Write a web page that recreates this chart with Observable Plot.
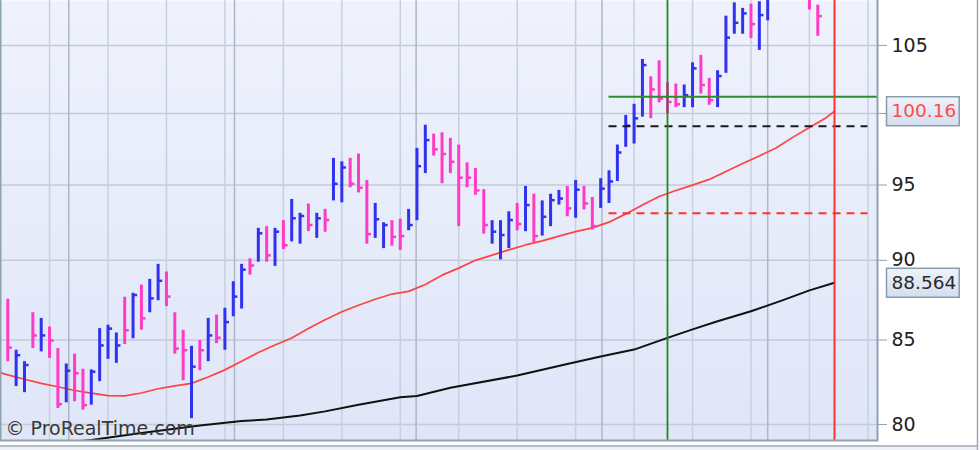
<!DOCTYPE html>
<html><head><meta charset="utf-8">
<script src="https://cdn.jsdelivr.net/npm/d3@7"></script>
<script src="https://cdn.jsdelivr.net/npm/@observablehq/plot@0.6"></script>
<style>
html,body{margin:0;padding:0;background:#fff;}
#chart{width:980px;height:450px;overflow:hidden;}
svg{display:block;}
</style></head><body><div id="chart"></div>
<script>
// ---- data (bar index 0..99, daily HLC bars; "u" = up bar, "d" = down bar) ----
const dir = ["d","u","u","d","u","d","d","u","d","d", "u","u","u","u","d","u","d","u","u","d",
             "d","d","u","d","u","d","u","u","u","d", "u","d","u","d","u","u","d","u","d","u",
             "u","d","d","d","u","u","d","d","u","u", "u","d","d","d","d","d","d","d","u","u",
             "u","d","u","d","u","u","u","d","u","d", "d","u","u","u","u","u","u","d","d","d",
             "d","u","u","d","d","u","u","u","u","d", "u","u","u","d","u","d","d","d","u","u"];
const highs = [87.52,84.38,83.69,86.68,86.33,85.80,84.48,83.55,84.14,83.24,
  83.20,85.70,85.91,85.43,87.65,87.90,88.42,88.78,89.74,89.25,
  86.68,85.60,84.62,84.97,86.33,86.54,86.96,88.63,89.74,90.10,
  92.09,92.20,92.09,92.60,94.02,93.09,93.71,93.09,93.35,96.83,
  96.59,96.83,97.13,95.31,93.75,92.46,92.60,92.69,93.35,97.53,
  99.16,98.53,98.62,98.23,97.76,96.52,96.13,94.68,92.60,92.60,
  93.19,93.75,94.90,94.37,93.92,94.37,94.63,94.90,95.31,94.90,
  94.15,95.43,95.97,97.76,99.86,100.66,103.95,102.67,103.85,102.23,
  102.13,102.06,103.70,104.26,102.55,103.11,107.23,108.26,107.83,108.16,
  108.34,109.20,110.60,111.20,111.00,110.70,109.80,108.08,110.20,110.60];
const lows = [83.69,82.21,81.85,84.48,84.28,83.89,80.93,81.26,81.32,80.83,
  81.12,82.50,83.83,83.59,84.73,85.08,85.60,86.68,87.43,87.06,
  84.14,82.56,80.34,83.15,83.69,84.78,84.38,86.43,86.91,89.05,
  89.88,89.88,89.61,90.70,91.20,91.05,91.87,91.43,91.83,93.92,
  93.79,94.81,94.46,91.05,91.43,90.76,90.92,90.65,91.93,92.60,
  95.78,96.99,95.08,95.78,92.20,94.81,94.30,91.71,91.05,90.03,
  90.76,91.93,91.87,91.14,91.58,92.20,93.64,92.86,92.76,93.31,
  91.98,93.42,93.75,95.24,97.60,97.83,99.74,99.63,100.76,99.98,
  100.42,100.42,100.42,101.40,100.59,100.42,102.92,105.85,105.85,105.52,
  104.63,106.87,108.70,109.00,108.80,108.70,107.70,105.69,108.60,108.80];
const closes = [84.54,84.08,83.49,85.28,85.28,84.97,81.18,83.15,83.00,81.12,
  83.09,84.67,85.70,84.67,85.60,87.79,86.33,87.58,88.69,87.69,
  84.48,84.38,83.39,84.38,85.28,85.14,86.10,87.69,89.40,89.67,
  91.76,90.32,91.87,90.98,92.76,92.91,92.31,92.76,92.64,95.08,
  96.20,95.08,94.81,91.71,92.69,92.31,91.53,91.58,92.31,96.29,
  98.11,97.46,97.13,96.59,95.50,95.50,94.63,92.31,91.87,91.65,
  92.64,92.38,93.64,91.58,92.86,93.97,94.08,93.42,94.68,93.75,
  92.24,94.75,95.24,97.24,99.13,99.65,103.53,101.74,101.08,100.83,
  100.66,101.32,103.29,102.06,100.96,102.72,105.59,106.72,107.44,106.62,
  107.31,108.60,110.10,109.60,110.40,108.90,108.60,107.23,109.80,110.30];

// moving averages (bar index, value)
const ma50Idx = [-1,0,2,4,6,8,10,12,14,16,18,20,22,24,26,28,30,32,34,36,38,40,42,44,46,48,50,52,54,56,58,60,62,64,66,68,70,72,74,76,78,80,82,84,86,88,90,92,94,96,98,99];
const ma50 = [83.05,82.90,82.64,82.40,82.20,81.98,81.82,81.68,81.66,81.83,82.08,82.25,82.40,82.78,83.20,83.72,84.24,84.70,85.12,85.70,86.25,86.74,87.15,87.52,87.85,88.02,88.45,89.05,89.50,90.00,90.34,90.68,91.00,91.27,91.58,91.87,92.12,92.50,93.05,93.65,94.22,94.62,94.99,95.38,95.92,96.47,97.00,97.55,98.30,99.00,99.70,100.16];
const ma200Idx = [6,10,16,23,28,31,35,38,42,47,49,53,61,67,71,75,79,82,85,89,93,96,99];
const ma200 = [78.93,79.12,79.52,79.94,80.20,80.29,80.52,80.76,81.15,81.58,81.66,82.14,82.86,83.55,84.00,84.42,85.13,85.65,86.15,86.77,87.50,88.08,88.564];

// horizontal levels: price, from bar, to bar
const levelKind = ["green", "blackDash", "redDash"];
const levelPrice = [101.20, 99.09, 93.09];
const levelFrom = [72, 72, 72];
const levelTo = [104.15, 103, 103];

// vertical markers (bar index)
const greenMarker = [79];
const redMarker = [99];

// last value labels
const lastValues = [100.16, 88.564];
const lastTexts = ["100.16", "88.564"];
const lastColors = ["#ff4a4a", "#2a2a2a"];

// axis ticks and grid positions
const yTicks = [80, 85, 90, 95, 100, 105];
const yTickLabels = ["80", "85", "90", "95", "100", "105"];
const weekGrid = [5,12,19,26,33,40,47,54,61,68,75,82,89,96,103];
const monthGrid = [7.3, 27.15, 48.9, 71.15, 91];
const watermark = ["© ProRealTime.com"];

// ---- build tables ----
const bars = highs.map((h, i) => ({i, high: h, low: lows[i], close: closes[i], dir: dir[i]}));
const ma50Data = ma50Idx.map((i, k) => ({i, v: ma50[k]}));
const ma200Data = ma200Idx.map((i, k) => ({i, v: ma200[k]}));
const levels = levelKind.map((k, j) => ({k, price: levelPrice[j], from: levelFrom[j], to: levelTo[j]}));
const labels = lastValues.map((v, j) => ({v, t: lastTexts[j], c: lastColors[j]}));
// tick labels that sit under a last-value box are hidden by it, as in the reference
const tickData = yTicks.map((v, j) => ({v, t: yTickLabels[j]}))
  .filter(d => !lastValues.some(v => Math.abs(Math.log(v / d.v)) < 0.006));
const UP = "#3131f0", DOWN = "#ff3bc6";
const col = d => d.dir === "u" ? UP : DOWN;
const FONT = "'DejaVu Sans', sans-serif";

const chart = Plot.plot({
  width: 980, height: 450,
  marginLeft: 0, marginRight: 103, marginTop: 0, marginBottom: 10,
  style: {fontFamily: FONT, fontSize: "19px", background: "transparent", overflow: "visible"},
  x: {type: "linear", domain: [-0.874, 104.15], axis: null},
  y: {type: "log", domain: [79.09, 108.44], axis: null},
  marks: [
    Plot.frame({fill: "#e6ebf9", stroke: "none", className: "plotbg"}),
    Plot.ruleY(yTicks, {stroke: "#c3cadb", strokeWidth: 1.5}),
    Plot.ruleX(weekGrid, {stroke: "#c8cfdf", strokeWidth: 1.5}),
    Plot.ruleX(monthGrid, {stroke: "#aeb6c8", strokeWidth: 1.5}),
    Plot.line(ma200Data, {x: "i", y: "v", stroke: "#111", strokeWidth: 2, clip: true}),
    Plot.line(ma50Data, {x: "i", y: "v", stroke: "#ff4343", strokeWidth: 1.7, clip: true}),
    Plot.ruleX(bars, {x: "i", y1: "low", y2: "high", stroke: col, strokeWidth: 3, clip: true}),
    Plot.ruleY(bars, {y: "close", x1: "i", x2: d => d.i + 0.55, stroke: col, strokeWidth: 2.5, clip: true}),
    Plot.ruleY(levels.filter(d => d.k === "blackDash"), {y: "price", x1: "from", x2: "to", stroke: "#1a1a1a", strokeWidth: 2, strokeDasharray: "8,6"}),
    Plot.ruleY(levels.filter(d => d.k === "redDash"), {y: "price", x1: "from", x2: "to", stroke: "#ff3030", strokeWidth: 2, strokeDasharray: "8,6"}),
    Plot.ruleY(levels.filter(d => d.k === "green"), {y: "price", x1: "from", x2: "to", stroke: "#2b8e2b", strokeWidth: 2}),
    Plot.ruleX(greenMarker, {stroke: "#1f8a1f", strokeWidth: 1.8}),
    Plot.ruleX(redMarker, {stroke: "#ff3232", strokeWidth: 2}),
    Plot.frame({stroke: "#8fa2b0", strokeWidth: 2, insetTop: -4}),
    Plot.axisY({anchor: "right", ticks: yTicks, tickSize: 9, stroke: "#8fa2b0", tickFormat: () => "", label: null}),
    Plot.text(tickData, {y: "v", text: "t", frameAnchor: "right", dx: 14, textAnchor: "start", fill: "#222", fontSize: 19}),
    Plot.text(labels, {y: "v", text: "t", fill: "c", frameAnchor: "right", dx: 14, textAnchor: "start", fontSize: 18.5, className: "lastvalues"}),
    Plot.text(watermark, {frameAnchor: "bottom-left", dx: 5, dy: -11.5, textAnchor: "start", lineAnchor: "middle", fill: "#383838", fontSize: 19})
  ]
});
document.getElementById("chart").appendChild(chart);

// ---- decoration: gradients, label boxes, outer borders ----
const svg = d3.select(chart);
const defs = svg.insert("defs", ":first-child");
const g1 = defs.append("linearGradient").attr("id", "plotbg").attr("x1", 0).attr("y1", 0).attr("x2", 0).attr("y2", 1);
g1.append("stop").attr("offset", "0%").attr("stop-color", "#eff2fc");
g1.append("stop").attr("offset", "100%").attr("stop-color", "#dfe6f8");
const g2 = defs.append("linearGradient").attr("id", "boxbg").attr("x1", 0).attr("y1", 0).attr("x2", 0).attr("y2", 1);
g2.append("stop").attr("offset", "0%").attr("stop-color", "#eef3fa");
g2.append("stop").attr("offset", "100%").attr("stop-color", "#d3deee");
svg.selectAll("g.plotbg rect, rect.plotbg").attr("fill", "url(#plotbg)");

const ctx = document.createElement("canvas").getContext("2d");
ctx.font = "18.5px 'DejaVu Sans'";
svg.selectAll("g.lastvalues text, text.lastvalues").each(function () {
  const w = ctx.measureText(this.textContent).width;
  const t = this.getAttribute("transform");
  const r = document.createElementNS("http://www.w3.org/2000/svg", "rect");
  r.setAttribute("x", -5); r.setAttribute("y", -14.5);
  r.setAttribute("width", w + 8); r.setAttribute("height", 29);
  if (t) r.setAttribute("transform", t);
  r.setAttribute("fill", "url(#boxbg)"); r.setAttribute("stroke", "#8a9dab"); r.setAttribute("stroke-width", 1.5);
  this.parentNode.insertBefore(r, this);
});

// lower panel edge and right outer border
svg.append("line").attr("x1", 0).attr("x2", 978).attr("y1", 446).attr("y2", 446).attr("stroke", "#9aa9b6").attr("stroke-width", 1.5);
svg.append("rect").attr("x", 0).attr("y", 447).attr("width", 977).attr("height", 4).attr("fill", "#eef1f8");
svg.append("line").attr("x1", 977.5).attr("x2", 977.5).attr("y1", 0).attr("y2", 450).attr("stroke", "#9aa9b6").attr("stroke-width", 1.5);
</script></body></html>
